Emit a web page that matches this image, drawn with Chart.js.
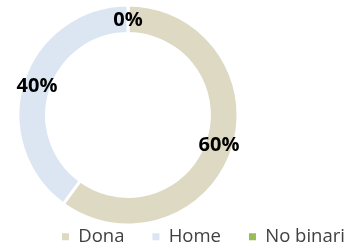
<!DOCTYPE html>
<html>
<head>
<meta charset="utf-8">
<script src="https://cdn.jsdelivr.net/npm/chart.js@4/dist/chart.umd.min.js"></script>
<style>
  html, body { margin: 0; padding: 0; background: #ffffff; }
  #wrap { width: 348px; height: 250px; position: relative; }
</style>
</head>
<body>
<div id="wrap"><canvas id="c" width="348" height="250"></canvas></div>
<script>
const categories = ['Dona', 'Home', 'No binari'];
const values = [60, 40, 0];
const colors = ['#DDD9C3', '#DCE6F2', '#9BBB59'];

// Place the ring so its centre sits left of the canvas centre, as in the reference
const placeRing = {
  id: 'placeRing',
  afterLayout(chart) {
    const cx = 128, cy = 115, half = 112;
    chart.chartArea = {
      left: cx - half, right: cx + half,
      top: cy - half, bottom: cy + half,
      width: half * 2, height: half * 2
    };
  }
};

const percentLabels = {
  id: 'percentLabels',
  afterDatasetsDraw(chart) {
    const ctx = chart.ctx;
    const meta = chart.getDatasetMeta(0);
    const data = chart.data.datasets[0].data;
    const total = data.reduce((a, b) => a + b, 0);
    ctx.save();
    ctx.font = 'bold 20px "Open Sans", "Liberation Sans", sans-serif';
    ctx.fillStyle = '#000000';
    ctx.textAlign = 'center';
    ctx.textBaseline = 'middle';
    meta.data.forEach((arc, i) => {
      const p = arc.tooltipPosition();
      const pct = Math.round(data[i] / total * 100) + '%';
      ctx.fillText(pct, p.x, p.y + 1);
    });
    ctx.restore();
  }
};

new Chart(document.getElementById('c'), {
  type: 'doughnut',
  data: {
    labels: categories,
    datasets: [{
      data: values,
      backgroundColor: colors,
      borderColor: '#ffffff',
      borderWidth: 3,
      radius: 110,
      cutout: '74%',
      clip: false
    }]
  },
  options: {
    responsive: false,
    animation: false,
    events: [],
    layout: { padding: { left: 34, right: -60, top: 0, bottom: -6 } },
    plugins: {
      tooltip: { enabled: false },
      legend: {
        position: 'bottom',
        align: 'start',
        labels: {
          boxWidth: 7,
          boxHeight: 7,
          padding: 28,
          color: '#404040',
          font: { family: '"Open Sans", "Liberation Sans", sans-serif', size: 18.5 },
          generateLabels(chart) {
            const items = Chart.overrides.doughnut.plugins.legend.labels.generateLabels(chart);
            items.forEach(it => { it.lineWidth = 0; it.strokeStyle = 'rgba(0,0,0,0)'; });
            return items;
          }
        }
      }
    }
  },
  plugins: [placeRing, percentLabels]
});
</script>
</body>
</html>
